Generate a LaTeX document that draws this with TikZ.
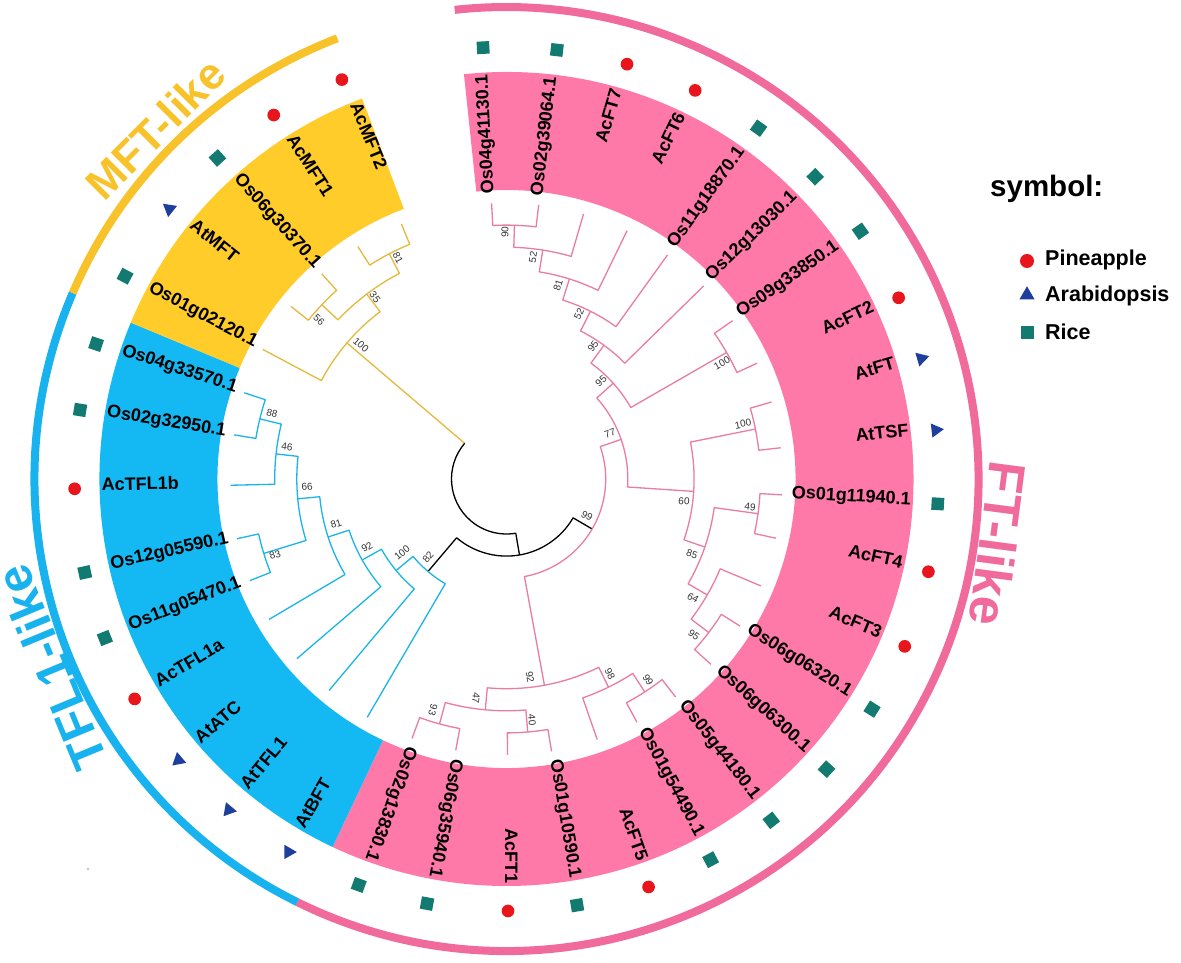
\documentclass[tikz,border=0pt]{standalone}
\usepackage{fontspec}
\setmainfont{Liberation Sans}
\usetikzlibrary{shapes.geometric}
\definecolor{ftpink}{HTML}{FF79A8}
\definecolor{ftarc}{HTML}{F06A9C}
\definecolor{ftline}{HTML}{EA7CA3}
\definecolor{tflblue}{HTML}{14B9F3}
\definecolor{tflarc}{HTML}{18B2EE}
\definecolor{tflline}{HTML}{1BB4EA}
\definecolor{mftyel}{HTML}{FFCC29}
\definecolor{mftarc}{HTML}{F8C22A}
\definecolor{mftline}{HTML}{E5B93C}
\definecolor{symred}{HTML}{E8161C}
\definecolor{symblue}{HTML}{1E3F9C}
\definecolor{symteal}{HTML}{127A70}
\definecolor{bsgray}{HTML}{333333}
\newcommand\brnch[6]{\draw[#1] (#3:#4) -- (#3:#2) arc[start angle=#3, end angle=#5, radius=#2] -- (#5:#6);}
\newcommand\bandsector[3]{\fill[#1] (#2:289) arc[start angle=#2, end angle=#3, radius=289] -- (#3:407) arc[start angle=#3, end angle=#2, radius=407] -- cycle;}
\begin{document}
\begin{tikzpicture}[x=1pt,y=1pt,
  br/.style={line width=1.3pt, line join=round},
  pk/.style={br, draw=ftline}, bl/.style={br, draw=tflline},
  yl/.style={br, draw=mftline}, bk/.style={br, draw=black},
  lf/.style={font=\fontsize{18}{20}\selectfont\bfseries, inner sep=0pt},
  bs/.style={font=\fontsize{10}{11}\selectfont, text=bsgray, inner sep=0pt},
  clab/.style={font=\fontsize{44}{48}\selectfont\bfseries, inner sep=0pt},
  leg/.style={font=\fontsize{21.5}{24}\selectfont\bfseries, inner sep=0pt, anchor=base west},
  circ/.style={circle, fill=symred, minimum size=12.7pt, inner sep=0pt},
  sqr/.style={rectangle, fill=symteal, minimum size=12.5pt, inner sep=0pt},
  tri/.style={regular polygon, regular polygon sides=3, fill=symblue, minimum size=16.5pt, inner sep=0pt},
  oarc/.style={line width=8pt}
]
\useasboundingbox (-506.5,-484) rectangle (674.5,479);
\fill[white] (-506.5,-484) rectangle (674.5,479);

% label bands
\bandsector{ftpink}{-115.3}{96}
\bandsector{tflblue}{157.4}{244.7}
\bandsector{mftyel}{110.8}{157.4}
% outer clade arcs
\draw[oarc, ftarc] (-116.3:472) arc[start angle=-116.3, end angle=96.3, radius=472];
\draw[oarc, tflarc] (156.8:472) arc[start angle=156.8, end angle=243.7, radius=472];
\draw[oarc, mftarc] (111:472) arc[start angle=111, end angle=156.8, radius=472];
% ---- tree ----
\draw[yl] (139.54:55) -- (139.54:209.7);
\draw[bk] (139.54:55) arc[start angle=139.54, end angle=279.71, radius=55] -- (279.71:77.1);
\brnch{bk}{77.1}{229.68}{121.3}{329.74}{99.2}
% MFT
\brnch{yl}{253.9}{141.3}{276}{132.0}{276}
\brnch{yl}{253.9}{122.6}{276}{112.4}{276}
\brnch{yl}{231.8}{136.65}{253.9}{117.5}{253.9}
\brnch{yl}{209.7}{152.0}{276}{127.075}{231.8}
% TFL1
\brnch{bl}{253.9}{161.8}{276}{170.8}{276}
\brnch{bl}{231.8}{166.3}{253.9}{181.3}{276}
\brnch{bl}{253.9}{192.5}{276}{201.6}{276}
\brnch{bl}{209.7}{173.8}{231.8}{197.05}{253.9}
\brnch{bl}{187.6}{185.425}{209.7}{210.6}{276}
\brnch{bl}{165.5}{198.0125}{187.6}{220.6}{276}
\brnch{bl}{143.4}{209.31}{165.5}{230.0}{276}
\brnch{bl}{121.3}{219.65}{143.4}{239.7}{276}
% FT
\brnch{pk}{253.9}{93.1}{276}{83.3}{276}
\brnch{pk}{231.8}{88.2}{253.9}{73.8}{276}
\brnch{pk}{209.7}{81.0}{231.8}{64.1}{276}
\brnch{pk}{187.6}{72.55}{209.7}{54.3}{276}
\brnch{pk}{165.5}{63.425}{187.6}{44.4}{276}
\brnch{pk}{253.9}{35.0}{276}{24.8}{276}
\brnch{pk}{143.4}{53.9125}{165.5}{29.9}{253.9}
\brnch{pk}{253.9}{16.2}{276}{6.5}{276}
\brnch{pk}{253.9}{-3.3}{276}{-12.4}{276}
\brnch{pk}{253.9}{-32.2}{276}{-42.2}{276}
\brnch{pk}{231.8}{-22.8}{276}{-37.2}{253.9}
\brnch{pk}{209.7}{-7.85}{253.9}{-30.0}{231.8}
\brnch{pk}{187.6}{11.35}{253.9}{-18.925}{209.7}
\brnch{pk}{121.3}{41.906}{143.4}{-3.7875}{187.6}
\brnch{pk}{253.9}{-100.6}{276}{-110.0}{276}
\brnch{pk}{253.9}{-80.6}{276}{-89.8}{276}
\brnch{pk}{231.8}{-85.2}{253.9}{-105.3}{253.9}
\brnch{pk}{253.9}{-52.2}{276}{-61.8}{276}
\brnch{pk}{231.8}{-57.0}{253.9}{-70.8}{276}
\brnch{pk}{209.7}{-63.9}{231.8}{-95.25}{231.8}
\brnch{pk}{99.2}{19.059}{121.3}{-79.575}{209.7}

% ---- bootstrap values ----
\node[bs, rotate=-62.5] (b1) at (-108.5,221) {81};
\node[bs, rotate=-52.9] (b2) at (-131.5,182) {35};
\node[bs, rotate=-43.35] (b3) at (-187.5,159) {56};
\node[bs, rotate=-40.46] (b4) at (-145.5,134) {100};
\node[bs, rotate=-13.7] (b5) at (-234.5,66) {88};
\node[bs, rotate=-6.2] (b6) at (-219.5,32) {46};
\node[bs, rotate=5.4] (b7) at (-199.5,-8) {66};
\node[bs, rotate=17.05] (b8) at (-231.5,-76) {83};
\node[bs, rotate=18] (b9) at (-170.5,-45) {81};
\node[bs, rotate=29.3] (b10) at (-139.5,-68) {92};
\node[bs, rotate=39.65] (b11) at (-104.5,-74) {100};
\node[bs, rotate=49.7] (b12) at (-78.5,-78) {82};
\node[bs, rotate=88.2] (b13) at (-1.5,247) {90};
\node[bs, rotate=81] (b14) at (26.5,222) {52};
\node[bs, rotate=72.55] (b15) at (51.5,194) {81};
\node[bs, rotate=63.4] (b16) at (72.5,165) {52};
\node[bs, rotate=53.9] (b17) at (86.5,133) {95};
\node[bs, rotate=41.9] (b18) at (94.5,98) {95};
\node[bs, rotate=19.06] (b19) at (103.5,46) {77};
\node[bs, rotate=29.9] (b20) at (215.5,116) {100};
\node[bs, rotate=11.35] (b21) at (236.5,55) {100};
\node[bs, rotate=-3.8] (b22) at (177.5,-22) {60};
\node[bs, rotate=-7.85] (b23) at (243.5,-28) {49};
\node[bs, rotate=-18.9] (b24) at (185.5,-75) {85};
\node[bs, rotate=-30.26] (b25) at (80.5,-37) {99};
\node[bs, rotate=-30] (b26) at (186.5,-119) {64};
\node[bs, rotate=-37.2] (b27) at (187.5,-156) {95};
\node[bs, rotate=-79.6] (b28) at (23.5,-198) {92};
\node[bs, rotate=-95.25] (b29) at (-30.5,-219) {47};
\node[bs, rotate=-105.3] (b30) at (-73.5,-231) {93};
\node[bs, rotate=-85.2] (b31) at (25.5,-241) {40};
\node[bs, rotate=-63.9] (b32) at (103.5,-195) {98};
\node[bs, rotate=-57] (b33) at (141.5,-201) {99};

% ---- leaf labels ----
\node[lf, rotate=93.1, anchor=mid east] (l0) at (93.1:405) {Os04g41130.1};
\node[lf, rotate=83.3, anchor=mid east] (l1) at (83.3:405) {Os02g39064.1};
\node[lf, rotate=73.8, anchor=mid east] (l2) at (73.8:405) {AcFT7};
\node[lf, rotate=64.1, anchor=mid east] (l3) at (64.1:405) {AcFT6};
\node[lf, rotate=54.3, anchor=mid east] (l4) at (54.3:405) {Os11g18870.1};
\node[lf, rotate=44.4, anchor=mid east] (l5) at (44.4:405) {Os12g13030.1};
\node[lf, rotate=35.0, anchor=mid east] (l6) at (35.0:405) {Os09g33850.1};
\node[lf, rotate=24.8, anchor=mid east] (l7) at (24.8:405) {AcFT2};
\node[lf, rotate=16.2, anchor=mid east] (l8) at (16.2:405) {AtFT};
\node[lf, rotate=6.5, anchor=mid east] (l9) at (6.5:405) {AtTSF};
\node[lf, rotate=-3.3, anchor=mid east] (l10) at (-3.3:405) {Os01g11940.1};
\node[lf, rotate=-12.4, anchor=mid east] (l11) at (-12.4:405) {AcFT4};
\node[lf, rotate=-22.8, anchor=mid east] (l12) at (-22.8:405) {AcFT3};
\node[lf, rotate=-32.2, anchor=mid east] (l13) at (-32.2:405) {Os06g06320.1};
\node[lf, rotate=-42.2, anchor=mid east] (l14) at (-42.2:405) {Os06g06300.1};
\node[lf, rotate=-52.2, anchor=mid east] (l15) at (-52.2:405) {Os05g44180.1};
\node[lf, rotate=-61.8, anchor=mid east] (l16) at (-61.8:405) {Os01g54490.1};
\node[lf, rotate=-70.8, anchor=mid east] (l17) at (-70.8:405) {AcFT5};
\node[lf, rotate=-80.6, anchor=mid east] (l18) at (-80.6:405) {Os01g10590.1};
\node[lf, rotate=-89.8, anchor=mid east] (l19) at (-89.8:405) {AcFT1};
\node[lf, rotate=-100.6, anchor=mid east] (l20) at (-100.6:405) {Os06g35940.1};
\node[lf, rotate=-110.0, anchor=mid east] (l21) at (-110.0:405) {Os02g13830.1};
\node[lf, rotate=59.7, anchor=mid west] (l22) at (239.7:405) {AtBFT};
\node[lf, rotate=50.0, anchor=mid west] (l23) at (230.0:405) {AtTFL1};
\node[lf, rotate=40.6, anchor=mid west] (l24) at (220.6:405) {AtATC};
\node[lf, rotate=30.6, anchor=mid west] (l25) at (210.6:405) {AcTFL1a};
\node[lf, rotate=21.6, anchor=mid west] (l26) at (201.6:405) {Os11g05470.1};
\node[lf, rotate=12.5, anchor=mid west] (l27) at (192.5:405) {Os12g05590.1};
\node[lf, rotate=1.3, anchor=mid west] (l28) at (181.3:405) {AcTFL1b};
\node[lf, rotate=-9.2, anchor=mid west] (l29) at (170.8:405) {Os02g32950.1};
\node[lf, rotate=-18.2, anchor=mid west] (l30) at (161.8:405) {Os04g33570.1};
\node[lf, rotate=-28.0, anchor=mid west] (l31) at (152.0:405) {Os01g02120.1};
\node[lf, rotate=-38.7, anchor=mid west] (l32) at (141.3:405) {AtMFT};
\node[lf, rotate=-48.0, anchor=mid west] (l33) at (132.0:405) {Os06g30370.1};
\node[lf, rotate=-57.4, anchor=mid west] (l34) at (122.6:405) {AcMFT1};
\node[lf, rotate=-67.6, anchor=mid west] (l35) at (112.4:405) {AcMFT2};

% ---- species symbols ----
\node[sqr, rotate=3.1] (s0) at (93.1:432) {};
\node[sqr, rotate=-6.7] (s1) at (83.3:432) {};
\node[circ] (s2) at (73.8:432) {};
\node[circ] (s3) at (64.1:432) {};
\node[sqr, rotate=-35.7] (s4) at (54.3:432) {};
\node[sqr, rotate=-45.6] (s5) at (44.4:432) {};
\node[sqr, rotate=-55] (s6) at (35.0:432) {};
\node[circ] (s7) at (24.8:432) {};
\node[tri, rotate=-73.8] (s8) at (16.2:432) {};
\node[tri, rotate=-83.5] (s9) at (6.5:432) {};
\node[sqr, rotate=-93.3] (s10) at (-3.3:432) {};
\node[circ] (s11) at (-12.4:432) {};
\node[circ] (s12) at (-22.8:432) {};
\node[sqr, rotate=-122.2] (s13) at (-32.2:432) {};
\node[sqr, rotate=-132.2] (s14) at (-42.2:432) {};
\node[sqr, rotate=-142.2] (s15) at (-52.2:432) {};
\node[sqr, rotate=-151.8] (s16) at (-61.8:432) {};
\node[circ] (s17) at (-70.8:432) {};
\node[sqr, rotate=-170.6] (s18) at (-80.6:432) {};
\node[circ] (s19) at (-89.8:432) {};
\node[sqr, rotate=-190.6] (s20) at (-100.6:432) {};
\node[sqr, rotate=-200] (s21) at (-110.0:432) {};
\node[tri, rotate=149.7] (s22) at (239.7:432) {};
\node[tri, rotate=140] (s23) at (230.0:432) {};
\node[tri, rotate=130.6] (s24) at (220.6:432) {};
\node[circ] (s25) at (210.6:432) {};
\node[sqr, rotate=111.6] (s26) at (201.6:432) {};
\node[sqr, rotate=102.5] (s27) at (192.5:432) {};
\node[circ] (s28) at (181.3:432) {};
\node[sqr, rotate=80.8] (s29) at (170.8:432) {};
\node[sqr, rotate=71.8] (s30) at (161.8:432) {};
\node[sqr, rotate=62] (s31) at (152.0:432) {};
\node[tri, rotate=51.3] (s32) at (141.3:432) {};
\node[sqr, rotate=42] (s33) at (132.0:432) {};
\node[circ] (s34) at (122.6:432) {};
\node[circ] (s35) at (112.4:432) {};

% ---- clade labels ----
\node[clab, text=mftarc, rotate=45.1] (cm) at (135.1:496) {MFT-like};
\node[clab, text=tflarc, rotate=112.5, font=\fontsize{49}{54}\selectfont\bfseries] (ct) at (202.5:493) {TFL1-like};
\node[clab, text=ftarc, rotate=-97.5, font=\fontsize{52}{56}\selectfont\bfseries] (cf) at (-7.5:496) {FT-like};

% ---- legend ----
\node[font=\fontsize{29.5}{32}\selectfont\bfseries, inner sep=0pt, anchor=base west] (lgt) at (483.5,282) {symbol:};
\node[circ, minimum size=14pt] (lg1) at (520.5,218) {};
\node[tri, minimum size=17.5pt] (lg2) at (520.5,184) {};
\node[sqr, minimum size=13pt] (lg3) at (520.5,146) {};
\node[leg] (lgp) at (538.5,213) {Pineapple};
\node[leg] (lga) at (538.5,177) {Arabidopsis};
\node[leg] (lgr) at (538.5,139) {Rice};

% stray dot
\fill[gray!40] (-418.5,-390) circle (1.6);
\end{tikzpicture}
\end{document}
